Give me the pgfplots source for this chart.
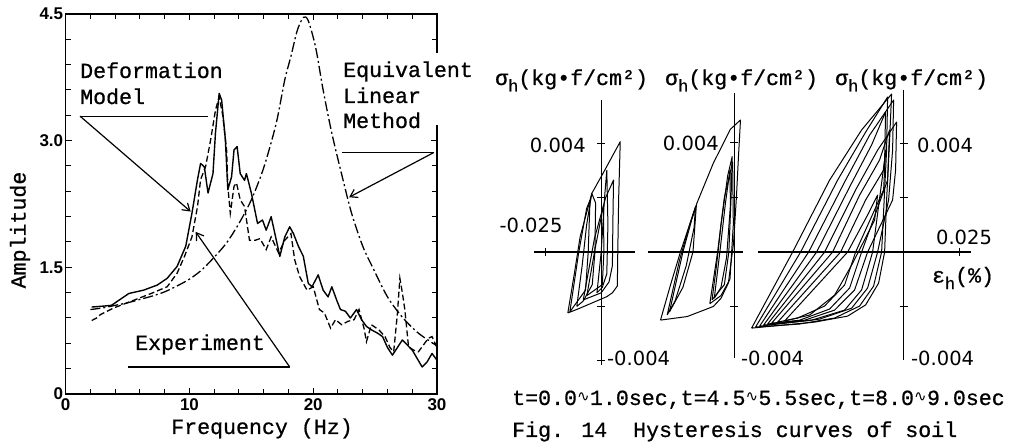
\documentclass[border=0pt]{standalone}
\usepackage{pgfplots}
\pgfplotsset{compat=1.18}
\usepackage{fontspec}
\usetikzlibrary{arrows.meta}
\setmainfont{Liberation Mono}[FakeBold=0.7]
\newfontfamily\tickfont{Liberation Sans}
\newfontfamily\numfont{DejaVu Sans}
\newcommand{\tw}{\fontsize{21.6}{24}\selectfont}
\newcommand{\nf}{\numfont\fontsize{19.5}{22}\selectfont}
\newcommand{\sig}{σ\raisebox{-0.3em}{\fontsize{17}{17}\selectfont h}(kg•f/cm²)}
\newcommand{\wave}{\makebox[0.6em]{\raisebox{0.15em}{\numfont\fontsize{15}{15}\selectfont ∿}}}

\pgfplotsset{
  hyst/.style={scale only axis, axis lines=middle, axis line style={-, line width=1.2pt},
    enlargelimits=false, clip=false, tick align=center, major tick length=8pt,
    scaled ticks=false,
    every tick/.style={black, line width=1pt}, xticklabels={}, yticklabels={},
    ytick={-0.004,-0.002,0.002,0.004}},
  loop/.style={black, line width=1pt, line join=round, no markers}
}

\begin{document}
\begin{tikzpicture}[x=1pt,y=1pt]
\useasboundingbox (0,0) rectangle (1015,443);

% ---------------- left: amplitude spectrum ----------------
\begin{axis}[at={(65.7pt,49pt)}, anchor=south west, scale only axis,
  width=371.3pt, height=380pt,
  xmin=0, xmax=30, ymin=0, ymax=4.5,
  xtick={0,10,20,30}, xticklabels={0,10,20,30},
  ytick={0,1.5,3,4.5}, yticklabels={0,1.5,3.0,4.5},
  minor xtick={2,4,6,8,12,14,16,18,22,24,26,28},
  minor ytick={0.3,0.6,0.9,1.2,1.8,2.1,2.4,2.7,3.3,3.6,3.9,4.2},
  tick align=inside, tick pos=both,
  major tick length=6pt, minor tick length=5pt,
  axis line style={line width=1.4pt},
  every tick/.style={black, line width=1pt},
  /pgf/number format/assume math mode=true,
  tick label style={font=\tickfont\bfseries\fontsize{17}{17}\selectfont},
  xticklabel style={yshift=-1pt},
  yticklabel style={xshift=1pt}]

% Deformation model (solid)
\addplot[black, line width=1.4pt, line join=round] coordinates {
(2.1,1.03)(3.0,1.04)(3.7,1.05)(4.4,1.12)(5.1,1.19)(5.7,1.21)(6.3,1.23)(7.4,1.29)
(8.2,1.37)(9.0,1.51)(9.7,1.75)(10.2,2.14)(10.65,2.54)(10.9,2.73)(11.2,2.69)(11.5,2.38)
(11.9,2.61)(12.1,3.09)(12.4,3.56)(12.6,3.48)(12.9,3.01)(13.1,2.42)(13.4,2.57)(13.6,2.89)
(13.85,2.93)(14.1,2.61)(14.45,2.53)(14.6,2.61)(15.0,2.38)(15.5,2.02)(15.9,2.06)(16.2,1.94)
(16.6,2.10)(16.9,1.90)(17.3,1.63)(17.7,1.86)(18.1,1.98)(18.4,1.90)(18.8,1.75)(19.2,1.63)
(19.6,1.31)(19.9,1.27)(20.4,1.41)(20.8,1.23)(21.2,1.15)(21.5,1.27)(21.9,1.11)(22.2,1.00)
(22.6,0.98)(23.0,0.90)(23.5,1.00)(23.9,0.88)(24.3,0.80)(24.7,0.76)(25.2,0.72)(25.6,0.68)
(26.0,0.55)(26.4,0.46)(26.8,0.55)(27.2,0.64)(27.6,0.58)(28.0,0.52)(28.4,0.42)(28.8,0.32)
(29.2,0.38)(29.6,0.48)(30.0,0.40)};

% Experiment (dashed)
\addplot[black, line width=1.3pt, dash pattern=on 6pt off 3pt] coordinates {
(2.1,0.87)(2.5,0.90)(2.8,0.94)(3.9,1.02)(5.5,1.11)(6.9,1.19)(8.2,1.27)(9.0,1.43)
(9.6,1.63)(10.2,1.86)(10.65,2.22)(10.9,2.54)(11.3,2.69)(11.7,3.0)(12.1,3.36)(12.4,3.52)
(12.7,3.29)(13.0,2.89)(13.1,2.46)(13.3,2.14)(13.6,2.46)(13.8,2.50)(14.1,2.30)(14.45,2.22)
(14.85,1.82)(15.3,1.82)(15.7,1.84)(16.2,1.71)(16.6,1.86)(17.2,1.67)(17.7,1.82)(18.2,1.90)
(18.5,1.59)(18.9,1.39)(19.5,1.23)(20.0,1.27)(20.5,1.00)(20.9,0.96)(21.4,0.78)(21.8,0.88)
(22.3,0.82)(22.8,0.86)(23.3,0.88)(23.7,1.00)(24.1,0.78)(24.3,0.62)(24.7,0.82)(25.3,0.76)
(25.8,0.68)(26.2,0.55)(26.5,0.50)(26.8,0.95)(27.0,1.37)(27.2,1.20)(27.4,1.00)(27.7,0.56)
(28.1,0.52)(28.5,0.50)(28.9,0.58)(29.3,0.66)(29.6,0.68)(30.0,0.55)};

% Equivalent linear method (dash-dot)
\addplot[black, line width=1.3pt, dash pattern=on 10pt off 3pt on 2pt off 3pt, smooth] coordinates {
(2,1.00)(3,1.02)(4,1.05)(5,1.08)(6,1.12)(7,1.16)(8,1.21)(9,1.28)(10,1.36)(11,1.47)
(12,1.62)(13,1.79)(14,2.02)(15,2.30)(16,2.68)(17,3.20)(17.7,3.72)(18.2,4.00)(18.7,4.30)
(19.2,4.46)(19.6,4.42)(20.2,4.10)(20.8,3.60)(21.5,3.09)(22.3,2.60)(23.1,2.14)(24.0,1.75)
(24.8,1.50)(26.0,1.15)(27.2,0.91)(28.5,0.72)(30.0,0.57)};

% annotation leaders
\draw[line width=1.2pt] (axis cs:1.16,3.29) -- (axis cs:11.46,3.29);
\draw[line width=1.2pt, -{Straight Barb[length=7pt,width=9pt]}] (axis cs:1.16,3.29) -- (axis cs:10.1,2.16);
\draw[line width=1.2pt] (axis cs:5.0,0.32) -- (axis cs:18.1,0.32);
\draw[line width=1.2pt, -{Straight Barb[length=7pt,width=9pt]}] (axis cs:18.1,0.32) -- (axis cs:10.5,1.92);
\draw[line width=1.2pt] (axis cs:22.3,2.86) -- (axis cs:29.75,2.86);
\draw[line width=1.2pt, -{Straight Barb[length=7pt,width=9pt]}] (axis cs:29.75,2.86) -- (axis cs:22.9,2.33);
\end{axis}

% break in the right border behind the text
\fill[white] (431,318) rectangle (443,390);

\node[anchor=base west, inner sep=0pt, font=\tw] at (80,365) {Deformation};
\node[anchor=base west, inner sep=0pt, font=\tw] at (80,339) {Model};
\node[anchor=base west, inner sep=0pt, font=\tw] at (135,93) {Experiment};
\node[anchor=base west, inner sep=0pt, font=\tw] at (343,366) {Equivalent};
\node[anchor=base west, inner sep=0pt, font=\tw] at (343,340) {Linear};
\node[anchor=base west, inner sep=0pt, font=\tw] at (343,315) {Method};
\node[rotate=90, inner sep=0pt, font=\tw] at (20,213) {Amplitude};
\node[anchor=base, inner sep=0pt, font=\tw] at (262,9) {Frequency (Hz)};

% ---------------- panel 1: t = 0.0 - 1.0 sec ----------------
\begin{axis}[hyst, at={(534pt,78pt)}, anchor=south west,
  width=100.8pt, height=265pt,
  xmin=-0.030, xmax=0.015, ymin=-0.00415, ymax=0.00558, xtick={-0.025}]
\addplot[loop] coordinates {(-0.0149,-0.00224)(-0.0120,-0.0008)(-0.0094,0.00056)(-0.0042,0.00215)(0.0009,0.0029)(0.0085,0.00405)(0.0078,0.0020)(0.0074,0.0)(0.0072,-0.00125)(0.0050,-0.0015)(0.0025,-0.00164)(-0.0094,-0.00206)(-0.0149,-0.00224)};
\addplot[loop] coordinates {(-0.0109,-0.0020)(-0.0085,-0.0005)(-0.0065,0.0010)(-0.0042,0.00215)(-0.0025,0.0018)(-0.0028,0.0)(-0.0040,-0.0012)(-0.0080,-0.0018)(-0.0109,-0.0020)};
\addplot[loop] coordinates {(-0.0080,-0.00176)(-0.0030,0.0005)(0.0020,0.0020)(0.0055,0.00264)(0.0052,0.0010)(0.0050,-0.0005)(0.0035,-0.0011)(0.0000,-0.0015)(-0.0080,-0.00176)};
\addplot[loop] coordinates {(-0.0019,-0.0015)(0.0000,0.0000)(0.0015,0.0020)(0.0025,0.0030)(0.0030,0.0010)(0.0025,-0.0008)(0.0005,-0.0013)(-0.0019,-0.0015)};
\addplot[loop] coordinates {(-0.0140,-0.0022)(-0.0100,0.0000)(-0.0065,0.0016)(-0.0050,0.0019)(-0.0058,0.0000)(-0.0070,-0.0014)(-0.0140,-0.0022)};
\addplot[loop] coordinates {(-0.0064,-0.0016)(-0.0030,0.0000)(0.0010,0.0017)(0.0012,0.0000)(0.0005,-0.0012)(-0.0064,-0.0016)};
\end{axis}

% ---------------- panel 2: t = 4.5 - 5.5 sec ----------------
\begin{axis}[hyst, at={(647.5pt,85pt)}, anchor=south west,
  width=95pt, height=265pt,
  xmin=-0.0388, xmax=0.0036, ymin=-0.00389, ymax=0.00583, xtick=\empty]
\addplot[loop] coordinates {(-0.0330,-0.0025)(-0.0285,-0.0012)(-0.0241,0.0)(-0.0167,0.0018)(-0.0094,0.00326)(-0.0018,0.0045)(0.0027,0.00484)(0.0018,0.0035)(0.0009,0.00203)(-0.0004,0.00033)(-0.0027,-0.00114)(-0.0060,-0.0017)(-0.0094,-0.0020)(-0.0211,-0.00237)(-0.0330,-0.0025)};
\addplot[loop] coordinates {(-0.0300,-0.00231)(-0.0245,-0.0003)(-0.0200,0.0010)(-0.0174,0.00166)(-0.0180,0.0009)(-0.0215,-0.0005)(-0.0265,-0.0018)(-0.0300,-0.00231)};
\addplot[loop] coordinates {(-0.0290,-0.0022)(-0.0230,0.0)(-0.0190,0.0012)(-0.0170,0.0017)(-0.0185,0.0)(-0.0230,-0.0013)(-0.0290,-0.0022)};
\addplot[loop] coordinates {(-0.0100,-0.00176)(-0.0080,-0.0005)(-0.0060,0.0010)(-0.0030,0.0028)(-0.0010,0.0035)(-0.0015,0.0020)(-0.0025,0.0)(-0.0045,-0.0012)(-0.0100,-0.00176)};
\addplot[loop] coordinates {(-0.0090,-0.0017)(-0.0065,0.0)(-0.0040,0.0018)(-0.0020,0.0030)(-0.0018,0.0017)(-0.0035,-0.0002)(-0.0060,-0.0013)(-0.0090,-0.0017)};
\addplot[loop] coordinates {(-0.0110,-0.0019)(-0.0075,0.0)(-0.0045,0.0020)(-0.0008,0.0033)(-0.0005,0.0010)(-0.0020,-0.0010)(-0.0060,-0.0016)(-0.0110,-0.0019)};
\end{axis}

% ---------------- panel 3: t = 8.0 - 9.0 sec ----------------
\begin{axis}[hyst, at={(758pt,83pt)}, anchor=south west,
  width=212.8pt, height=269.8pt,
  xmin=-0.065, xmax=0.030, ymin=-0.00396, ymax=0.00594, xtick={0.025}]
\addplot[loop] coordinates {(-0.06786,-0.00279)(-0.04955,0)(-0.03304,0.00264)(-0.01875,0.00448)(-0.00536,0.0058)(-0.00625,0.00411)(-0.00759,0.00191)(-0.00848,0)(-0.01116,-0.00114)(-0.01696,-0.00194)(-0.025,-0.00235)(-0.03973,-0.00257)(-0.06786,-0.00279)};
\addplot[loop] coordinates {(-0.06607,-0.00275)(-0.04598,0)(-0.02946,0.00264)(-0.01696,0.0044)(-0.00714,0.00569)(-0.00759,0.00374)(-0.00982,0)(-0.0134,-0.00125)(-0.01964,-0.00198)(-0.03080,-0.00242)(-0.04643,-0.00264)(-0.06607,-0.00275)};
\addplot[loop] coordinates {(-0.06429,-0.00272)(-0.04241,0)(-0.02589,0.00264)(-0.01518,0.00429)(-0.00446,0.00558)(-0.00491,0.00374)(-0.0067,0.00191)(-0.01161,0)(-0.01607,-0.00132)(-0.02321,-0.00206)(-0.0375,-0.00246)(-0.06429,-0.00272)};
\addplot[loop] coordinates {(-0.0625,-0.00268)(-0.03884,0)(-0.02366,0.00246)(-0.01429,0.00393)(-0.00804,0.00514)(-0.00848,0.00338)(-0.01384,0)(-0.01875,-0.00139)(-0.02634,-0.00213)(-0.04107,-0.0025)(-0.0625,-0.00268)};
\addplot[loop] coordinates {(-0.06071,-0.00264)(-0.03527,0)(-0.02143,0.00228)(-0.01161,0.00374)(-0.00313,0.00477)(-0.00357,0.00301)(-0.00491,0.00191)(-0.01607,0)(-0.02188,-0.00139)(-0.03080,-0.00213)(-0.0442,-0.0025)(-0.06071,-0.00264)};
\addplot[loop] coordinates {(-0.05893,-0.00261)(-0.0317,0)(-0.01964,0.00209)(-0.01071,0.00338)(-0.00625,0.00448)(-0.00714,0.00264)(-0.01875,0)(-0.02411,-0.00132)(-0.03304,-0.00209)(-0.04643,-0.0025)(-0.05893,-0.00261)};
\addplot[loop] coordinates {(-0.05625,-0.00257)(-0.02813,0)(-0.01696,0.00191)(-0.00893,0.00301)(-0.00804,0.00374)(-0.00893,0.00228)(-0.02143,0)(-0.02634,-0.00121)(-0.03527,-0.00198)(-0.04732,-0.00242)(-0.05625,-0.00257)};
\addplot[loop] coordinates {(-0.05313,-0.00253)(-0.025,0)(-0.01607,0.00136)(-0.01161,0.00209)(-0.01295,0.00117)(-0.02321,-0.00048)(-0.0308,-0.00158)(-0.04196,-0.00231)(-0.05313,-0.00253)};
\end{axis}

% ---------------- right-hand texts ----------------
\node[anchor=base west, inner sep=0pt, font=\tw] at (495,358) {\sig};
\node[anchor=base west, inner sep=0pt, font=\tw] at (665,358) {\sig};
\node[anchor=base west, inner sep=0pt, font=\tw] at (835,358) {\sig};

\node[anchor=east, inner sep=0pt, font=\nf] at (586,298) {0.004};
\node[inner sep=0pt, font=\nf] at (531,218) {-0.025};
\node[anchor=west, inner sep=0pt, font=\nf] at (607,85) {-0.004};
\node[anchor=east, inner sep=0pt, font=\nf] at (719,300) {0.004};
\node[anchor=west, inner sep=0pt, font=\nf] at (741,85) {-0.004};
\node[anchor=west, inner sep=0pt, font=\nf] at (917,298) {0.004};
\node[inner sep=0pt, font=\nf] at (964,206) {0.025};
\node[anchor=west, inner sep=0pt, font=\nf] at (911,85) {-0.004};
\node[inner sep=0pt, font=\tw] at (963,165) {ε\raisebox{-0.3em}{\fontsize{17}{17}\selectfont h}(\%)};

\node[anchor=base west, inner sep=0pt, font=\tw] at (512,38) {t=0.0\wave1.0sec,t=4.5\wave5.5sec,t=8.0\wave9.0sec};
\node[anchor=base west, inner sep=0pt, font=\tw] at (512,6) {Fig. 14\hspace{1.2em}Hysteresis curves of soil};
\end{tikzpicture}
\end{document}
